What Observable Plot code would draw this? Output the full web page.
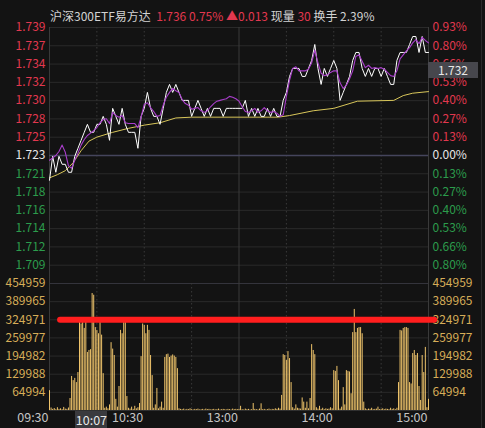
<!DOCTYPE html>
<html><head><meta charset="utf-8">
<script src="https://cdn.jsdelivr.net/npm/d3@7"></script>
<script src="https://cdn.jsdelivr.net/npm/@observablehq/plot@0.6"></script>
<style>
html,body{margin:0;padding:0;background:#131313;}
#wrap{position:relative;width:485px;height:428px;overflow:hidden;background:#131313;font-family:"Noto Sans CJK SC","Noto Sans",sans-serif;}
#top,#bot{position:absolute;left:0;}
#top{top:0;} #bot{top:283px;}
#hdr{position:absolute;left:50px;top:7px;font-size:12px;color:#d2d2d2;white-space:pre;line-height:18px;}
#hdr .r{color:#e2384f;}
.box{position:absolute;background:#47474d;color:#e8e8e8;font-size:12px;line-height:16px;text-align:center;}
#edge{position:absolute;left:481px;top:0;width:1px;height:428px;background:#2a2a2a;}
</style></head>
<body><div id="wrap"><div id="top"></div><div id="bot"></div><div id="edge"></div>
<div id="hdr">沪深300ETF易方达  <span class="r">1.736</span> <span class="r">0.75%</span> <span class="r">▲0.013</span> 现量 <span class="r">30</span> 换手 2.39%</div></div>
<script>
// ---- data ----
const prevClose = 1.7231;
const maxPct = 0.0093;
const pctSteps = [7,6,5,4,3,2,1,0,-1,-2,-3,-4,-5,-6];
const priceLabels = ["1.739","1.737","1.734","1.732","1.730","1.728","1.725","1.723","1.721","1.718","1.716","1.714","1.712","1.709"];
const pctLabels = ["0.93%","0.80%","0.66%","0.53%","0.40%","0.27%","0.13%","0.00%","0.13%","0.27%","0.40%","0.53%","0.66%","0.80%"];
const volTicks = [454959,389965,324971,259977,194982,129988,64994];
const volLabels = ["454959","389965","324971","259977","194982","129988","64994"];
const timeTicks = [0,60,120,180,240];
const timeLabels = ["09:30","10:30","13:00","14:00","15:00"];
const cursorTime = 37, cursorTimeLabel = "10:07";
const cursorPrice = 1.7337, cursorPriceLabel = "1.732";
const redLevel = 324971, redStart = 7, redEnd = 244;

// minute index (0 = 09:30, 120 = 11:30/13:00, 240 = 15:00), sampled every 2 minutes
const price = [
1.720,1.723,1.721,1.723,1.722,1.722,1.721,1.721,1.723,1.724,
1.725,1.726,1.727,1.726,1.726,1.727,1.727,1.728,1.727,1.725,
1.729,1.728,1.727,1.729,1.727,1.726,1.726,1.726,1.724,1.728,
1.729,1.731,1.729,1.728,1.728,1.727,1.729,1.731,1.732,1.731,
1.732,1.731,1.730,1.730,1.730,1.728,1.729,1.730,1.729,1.728,
1.729,1.728,1.729,1.729,1.729,1.728,1.729,1.729,1.729,1.729,
1.729,1.729,1.730,1.728,1.729,1.728,1.729,1.728,1.728,1.729,
1.728,1.729,1.728,1.728,1.730,1.731,1.733,1.734,1.734,1.734,
1.733,1.733,1.734,1.735,1.737,1.734,1.732,1.734,1.733,1.734,
1.735,1.734,1.730,1.731,1.732,1.733,1.735,1.736,1.736,1.734,
1.733,1.734,1.733,1.734,1.734,1.733,1.734,1.733,1.732,1.732,
1.735,1.736,1.736,1.736,1.737,1.738,1.738,1.736,1.738,1.736,
1.736];
const iopv = [
1.7225,1.7228,1.7231,1.7236,1.7244,1.7235,1.7218,1.7215,1.7225,1.7234,
1.7244,1.7251,1.7256,1.7259,1.7262,1.7266,1.7272,1.7276,1.7277,1.7271,
1.7285,1.7281,1.7279,1.7281,1.7272,1.7271,1.7271,1.7271,1.7266,1.7279,
1.7295,1.7297,1.7291,1.7286,1.7280,1.7281,1.7294,1.7304,1.7310,1.7315,
1.7312,1.7310,1.7301,1.7296,1.7294,1.7289,1.7290,1.7291,1.7287,1.7285,
1.7287,1.7292,1.7296,1.7299,1.7300,1.7301,1.7302,1.7305,1.7304,1.7302,
1.7299,1.7292,1.7286,1.7285,1.7287,1.7290,1.7285,1.7287,1.7291,1.7287,
1.7285,1.7286,1.7284,1.7280,1.7282,1.7305,1.7325,1.7340,1.7342,1.7337,
1.7337,1.7337,1.7339,1.7347,1.7363,1.7347,1.7334,1.7331,1.7332,1.7335,
1.7337,1.7337,1.7322,1.7315,1.7319,1.7327,1.7337,1.7355,1.7357,1.7349,
1.7341,1.7344,1.7340,1.7341,1.7340,1.7341,1.7339,1.7335,1.7331,1.7330,
1.7337,1.7352,1.7357,1.7362,1.7366,1.7372,1.7376,1.7371,1.7379,1.7375,
1.7372];
const avgTimes = [0,5,10,15,20,25,30,40,50,60,70,80,90,120,145,152,167,180,195,218,224,230,240];
const avgValues = [1.7203,1.7207,1.7212,1.7222,1.7237,1.7249,1.7254,1.7260,1.7265,1.7269,1.7272,1.7278,1.7279,1.7279,1.7279,1.7281,1.7287,1.7290,1.7299,1.7300,1.7306,1.7309,1.7311];
// per-minute volume, minute 0..240
const volume = [
71000,
9000,4000,7000,3000,10000,4000,6000,3000,11000,5000,4000,9000,
43000,122000,107000,115000,100000,136000,
315000,310000,315000,294000,320000,208000,215000,218000,419000,413000,297000,287000,275000,315000,270000,
132000,
8000,12000,6000,20000,
243000,220000,197000,
40000,12000,86000,
287000,275000,315000,315000,
50000,
8000,5000,12000,4000,15000,6000,10000,25000,
193000,310000,305000,275000,305000,287000,197000,125000,
8000,20000,79000,6000,12000,30000,8000,
190000,200000,202000,190000,195000,199000,195000,190000,150000,
6000,4000,3000,5000,2000,4000,3000,6000,3000,2000,
4000,3000,5000,2000,3000,4000,2000,5000,3000,4000,
2000,3000,4000,2000,3000,5000,2000,3000,4000,3000,
2000,4000,3000,2000,5000,3000,4000,3000,
4000,15000,3000,2000,5000,3000,4000,2000,3000,25000,
4000,3000,2000,5000,24000,3000,4000,2000,3000,5000,
2000,4000,3000,6000,4000,8000,5000,
54000,
200000,197000,179000,211000,186000,100000,
10000,5000,20000,8000,6000,5000,45000,30000,8000,30000,6000,43000,
236000,215000,200000,
10000,5000,15000,4000,8000,3000,6000,4000,5000,10000,
6000,
143000,140000,158000,107000,
5000,12000,82000,20000,143000,140000,138000,60000,
279000,362000,279000,294000,297000,297000,275000,
30000,
6000,3000,5000,4000,8000,3000,4000,5000,12000,3000,4000,6000,3000,5000,4000,3000,8000,4000,6000,3000,8000,
100000,287000,285000,294000,297000,297000,294000,100000,95000,204000,215000,197000,204000,86000,36000,197000,136000,226000,
10000,40000];

// ---- build ----
const RED = "#e2384f", GREEN = "#2c9c4c", WHITE = "#e6e6e6", GOLD = "#d6ad58";
const GRID = "#2a2a2a", VGRID = "#3a3a3a";
const font = '"Noto Sans CJK SC","Noto Sans",sans-serif';
const lo = prevClose * (1 - maxPct), hi = prevClose * (1 + maxPct);
const priceTicks = pctSteps.map((k, i) => ({
  v: prevClose * (1 + k * maxPct / 7), k,
  p: priceLabels[i], pc: pctLabels[i],
  c: k > 0 ? RED : k < 0 ? GREEN : WHITE
}));
const priceData = price.map((v, i) => ({t: i * 2, v}));
const iopvData = iopv.map((v, i) => ({t: i * 2, v}));
const avgData = avgTimes.map((t, i) => ({t, v: avgValues[i]}));
const volData = volume.map((v, i) => ({t: i, v}));
const volTickData = volTicks.map((v, i) => ({v, l: volLabels[i]}));
const timeData = timeTicks.map((t, i) => ({t, l: timeLabels[i]}));

const common = {
  width: 485, marginLeft: 49, marginRight: 57,
  style: {background: "transparent", overflow: "visible", fontFamily: font, fontSize: "12px"},
  x: {domain: [0, 240], axis: null},
  color: {type: "identity"}
};

const topPlot = Plot.plot({
  ...common,
  height: 283, marginTop: 27, marginBottom: 0,
  y: {domain: [lo, hi], axis: null},
  marks: [
    Plot.ruleY(priceTicks.filter(d => d.k !== 0), {y: "v", stroke: GRID}),
    Plot.ruleY([lo], {stroke: "#34343c"}),
    Plot.ruleX([30, 60, 150, 180, 210], {stroke: VGRID, strokeDasharray: "1.5,2.5"}),
    Plot.ruleX([0, 120, 240], {stroke: VGRID}),
    Plot.ruleY([prevClose], {stroke: "#45455c", strokeWidth: 1.6}),
    Plot.line(avgData, {x: "t", y: "v", stroke: "#d8c65a", strokeWidth: 1}),
    Plot.line(priceData, {x: "t", y: "v", stroke: "#ffffff", strokeWidth: 1}),
    Plot.line(iopvData, {x: "t", y: "v", stroke: "#a93ecb", strokeWidth: 1.1}),
    Plot.text(priceTicks, {y: "v", text: "p", fill: "c", frameAnchor: "left", textAnchor: "end", dx: -4}),
    Plot.text(priceTicks, {y: "v", text: "pc", fill: "c", frameAnchor: "right", textAnchor: "start", dx: 4})
  ]
});
document.getElementById("top").append(topPlot);

const botPlot = Plot.plot({
  ...common,
  height: 145, marginTop: 0, marginBottom: 18,
  y: {domain: [0, volTicks[0]], axis: null},
  marks: [
    Plot.ruleY(volTicks.slice(1), {stroke: GRID}),
    Plot.ruleY([volTicks[0]], {stroke: "#34343c"}),
    Plot.ruleY([0], {stroke: "#303030"}),
    Plot.ruleX([30, 90, 150, 210], {stroke: VGRID, strokeDasharray: "1.5,2.5"}),
    Plot.ruleX([0, 120, 240], {stroke: VGRID}),
    Plot.ruleX(volData, {x: "t", y1: 0, y2: "v", stroke: "#efc46b", strokeWidth: 1}),
    Plot.text(volTickData, {y: "v", text: "l", fill: GOLD, frameAnchor: "left", textAnchor: "end", dx: -4}),
    Plot.text(volTickData, {y: "v", text: "l", fill: GOLD, frameAnchor: "right", textAnchor: "start", dx: 4}),
    Plot.text(timeData, {x: "t", text: "l", fill: "#c4c4c4", fontSize: 12.5, frameAnchor: "bottom", textAnchor: "end", dy: 11, dx: -1}),
    Plot.ruleY([redLevel], {x1: redStart, x2: redEnd, stroke: "#ff1e1e", strokeWidth: 6, strokeLinecap: "round"})
  ]
});
document.getElementById("bot").append(botPlot);

// cursor labels placed through the plots' own scales
const wrap = document.getElementById("wrap");
const yTop = topPlot.scale("y"), xBot = botPlot.scale("x");
const pBox = document.createElement("div");
pBox.className = "box";
pBox.textContent = cursorPriceLabel;
Object.assign(pBox.style, {left: (xBot.apply(240)) + "px", top: (yTop.apply(cursorPrice) - 8) + "px", width: "50px", height: "16px"});
wrap.append(pBox);
const tBox = document.createElement("div");
tBox.className = "box";
tBox.textContent = cursorTimeLabel;
const tx = xBot.apply(cursorTime);
Object.assign(tBox.style, {left: (tx - 32) + "px", top: (283 + 145 - 17) + "px", width: "32px", height: "17px", lineHeight: "17px", background: "#3a3a3e", fontSize: "12.5px"});
wrap.append(tBox);
</script>
</body></html>
